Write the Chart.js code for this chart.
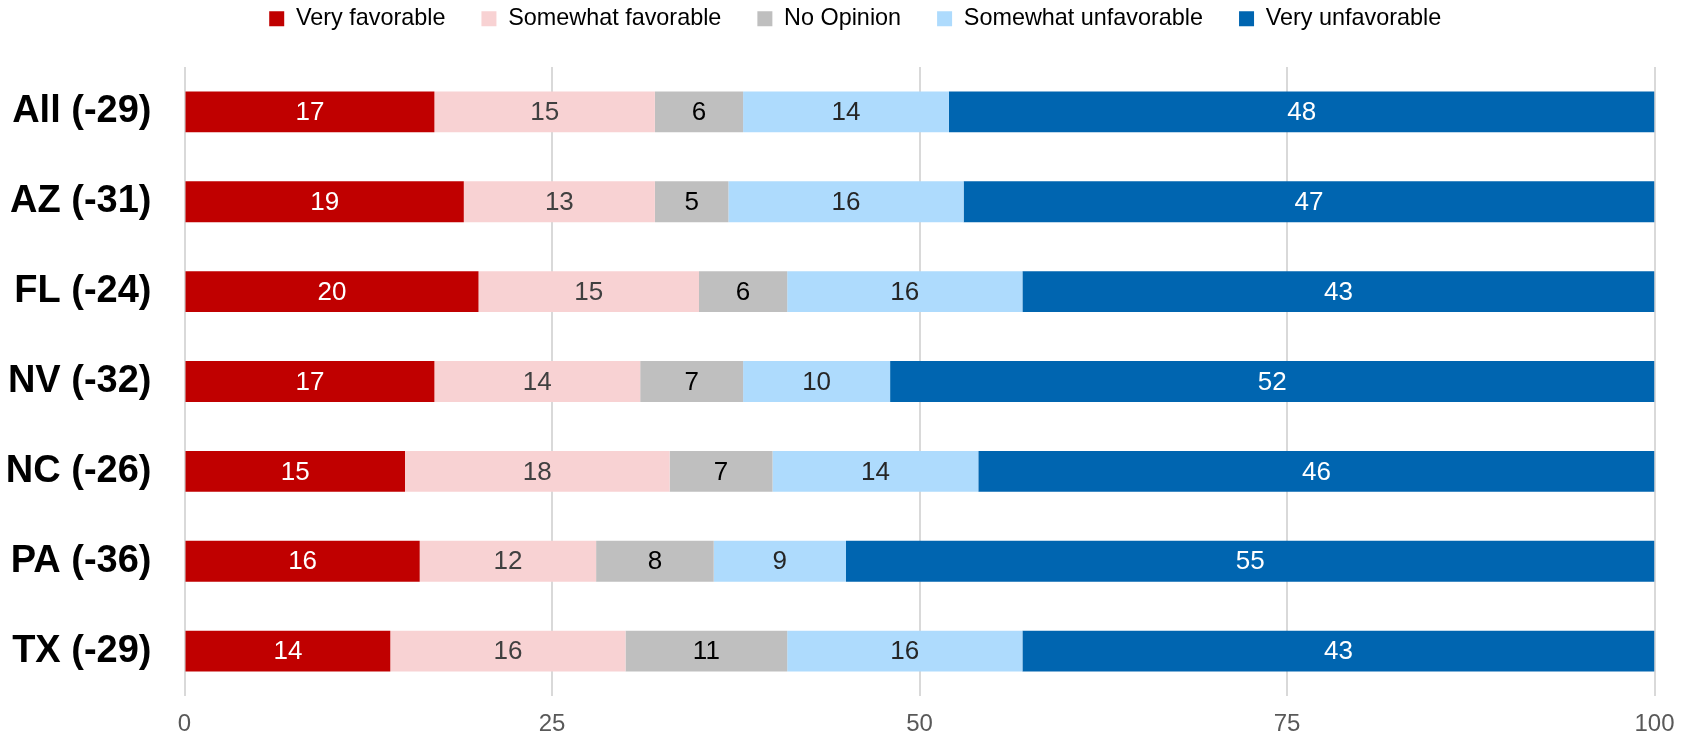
<!DOCTYPE html>
<html>
<head>
<meta charset="utf-8">
<script src="https://cdn.jsdelivr.net/npm/chart.js@4.4.1/dist/chart.umd.min.js"></script>
<style>
  html, body { margin: 0; padding: 0; background: #ffffff; }
  #wrap { width: 1693px; height: 736px; position: relative; }
</style>
</head>
<body>
<div id="wrap"><canvas id="c" width="1693" height="736"></canvas></div>
<script>
// ---- Data ----
const categories = ["All (-29)", "AZ (-31)", "FL (-24)", "NV (-32)", "NC (-26)", "PA (-36)", "TX (-29)"];
const seriesNames = ["Very favorable", "Somewhat favorable", "No Opinion", "Somewhat unfavorable", "Very unfavorable"];
const veryFavorable       = [17, 19, 20, 17, 15, 16, 14];
const somewhatFavorable   = [15, 13, 15, 14, 18, 12, 16];
const noOpinion           = [6, 5, 6, 7, 7, 8, 11];
const somewhatUnfavorable = [14, 16, 16, 10, 14, 9, 16];
const veryUnfavorable     = [48, 47, 43, 52, 46, 55, 43];
const xTicks = [0, 25, 50, 75, 100];

// ---- Styles ----
const seriesColors = ["#C00000", "#F8D2D3", "#BFBFBF", "#AEDBFD", "#0065B0"];
const labelColors  = ["#FFFFFF", "#404040", "#000000", "#262626", "#FFFFFF"];
const seriesValues = [veryFavorable, somewhatFavorable, noOpinion, somewhatUnfavorable, veryUnfavorable];

const FONT = "'Liberation Sans', Arial, Helvetica, sans-serif";

const datasets = seriesNames.map((name, i) => ({
  label: name,
  data: seriesValues[i],
  backgroundColor: seriesColors[i],
  borderWidth: 0,
  categoryPercentage: 1.0,
  barPercentage: 0.455
}));

// Draw value labels centred in each bar segment
const barLabels = {
  id: 'barLabels',
  afterDatasetsDraw(chart) {
    const ctx = chart.ctx;
    ctx.save();
    ctx.font = "26px " + FONT;
    ctx.textAlign = 'center';
    ctx.textBaseline = 'middle';
    chart.data.datasets.forEach((ds, di) => {
      const meta = chart.getDatasetMeta(di);
      if (meta.hidden) return;
      meta.data.forEach((el, i) => {
        const v = ds.data[i];
        if (!v) return;
        const p = el.getProps(['x', 'y', 'base'], true);
        ctx.fillStyle = labelColors[di];
        ctx.fillText(String(v), (p.x + p.base) / 2, p.y + 1);
      });
    });
    ctx.restore();
  }
};

// Legend: compact height, lift to top row, nudge to the right
const LEGEND_HEIGHT = 67;
const LEGEND_SHIFT_Y = -29;
const LEGEND_SHIFT_X = 28;
const legendTweak = {
  id: 'legendTweak',
  beforeLayout(chart) {
    const lg = chart.legend;
    if (lg && !lg.__tweaked) {
      lg.__tweaked = true;
      const fit = lg.fit;
      lg.fit = function () { fit.call(this); if (this.height) this.height = LEGEND_HEIGHT; };
    }
  },
  afterLayout(chart) {
    const lg = chart.legend;
    if (lg) {
      lg.top += LEGEND_SHIFT_Y; lg.bottom += LEGEND_SHIFT_Y;
      lg.left += LEGEND_SHIFT_X; lg.right += LEGEND_SHIFT_X;
    }
  }
};

const Y_AXIS_RIGHT = 184.5;
const X_AXIS_HEIGHT = 40;

new Chart(document.getElementById('c'), {
  type: 'bar',
  data: { labels: categories, datasets: datasets },
  options: {
    indexAxis: 'y',
    responsive: false,
    devicePixelRatio: 1,
    animation: false,
    layout: { padding: { left: 0, right: 38.5, top: 0, bottom: 0 } },
    plugins: {
      legend: {
        position: 'top',
        align: 'center',
        labels: {
          boxWidth: 15,
          boxHeight: 15,
          padding: 36,
          color: '#000000',
          font: { family: FONT, size: 23.4 }
        }
      },
      tooltip: { enabled: false },
      title: { display: false }
    },
    scales: {
      x: {
        stacked: true,
        min: 0,
        max: 100,
        afterBuildTicks(scale) { scale.ticks = xTicks.map(v => ({ value: v })); },
        afterFit(scale) { scale.height = X_AXIS_HEIGHT; },
        grid: { color: '#D9D9D9', lineWidth: 2, drawTicks: false },
        border: { display: false },
        ticks: {
          color: '#595959',
          padding: 14,
          font: { family: FONT, size: 24 }
        }
      },
      y: {
        stacked: true,
        grid: { display: false, drawTicks: false },
        border: { display: false },
        afterFit(scale) {
          scale.width = Y_AXIS_RIGHT;
          scale.paddingTop = 0;
          scale.paddingBottom = 0;
        },
        ticks: {
          autoSkip: false,
          color: '#000000',
          padding: 33,
          font: { family: FONT, size: 38, weight: 'bold' }
        }
      }
    }
  },
  plugins: [barLabels, legendTweak]
});
</script>
</body>
</html>
